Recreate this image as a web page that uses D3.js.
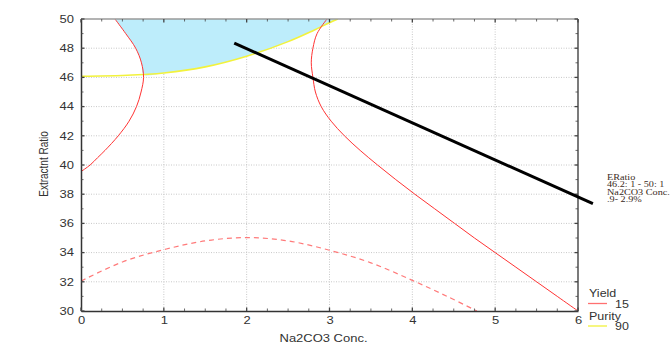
<!DOCTYPE html>
<html>
<head>
<meta charset="utf-8">
<script src="https://cdn.jsdelivr.net/npm/d3@7"></script>
<style>
    body { margin: 0; background: #fff; }
    text { font-family: Arial, "Liberation Sans", sans-serif; fill: #333; }
    .grid line { stroke: #c8c8c8; stroke-dasharray: 1,1.5; }
    .note text { font-family: "Liberation Serif", "Times New Roman", serif; fill: #3a2a22; }
</style>
</head>
<body>
<svg id="chart" width="672" height="343"></svg>
<script>
// ticks
const xTicks = [0, 1, 2, 3, 4, 5, 6];
const yTicks = [30, 32, 34, 36, 38, 40, 42, 44, 46, 48, 50];

// Yield = 15, left branch  [x, y]
const yieldLeft = [
    [0.41, 50], [0.54, 49], [0.66, 48], [0.73, 47], [0.755, 46], [0.725, 45],
    [0.67, 44], [0.58, 43], [0.45, 42], [0.29, 41], [0.2, 40.5], [0.11, 40], [0, 39.55]
];

// Yield = 15, right branch
const yieldRight = [
    [2.97, 50], [2.85, 49], [2.8, 48], [2.78, 47], [2.8, 46], [2.83, 45],
    [2.9, 44], [3.02, 43], [3.18, 42], [3.37, 41], [3.58, 40], [3.8, 39],
    [4.03, 38], [4.27, 37], [4.51, 36], [4.75, 35], [5.0, 34], [5.25, 33],
    [5.5, 32], [5.75, 31], [6, 30]
];

// Yield, lower contour (dashed)
const yieldLow = [
    [0, 32.05], [0.5, 33.36], [1, 34.2], [1.5, 34.8], [2, 35.03], [2.5, 34.8],
    [3, 34.16], [3.5, 33.3], [4, 32.1], [4.42, 31], [4.78, 30]
];

// Purity = 90
const purity = [
    [0, 46.08], [0.5, 46.13], [0.755, 46.2], [1, 46.3], [1.5, 46.72], [2, 47.45],
    [2.5, 48.45], [2.8, 49.2], [3, 49.75], [3.1, 50]
];

// ERatio path
const ratioLine = [[1.85, 48.35], [6.18, 37.35]];

const noteLines = ["ERatio", "46.2: 1 - 50: 1", "Na2CO3 Conc.", ".9- 2.9%"];

const legendItems = [
    {name: "Yield", level: "15", color: "#ff7070"},
    {name: "Purity", level: "90", color: "#f2f23c"}
];

const svg = d3.select("#chart");
const plotL = 81, plotR = 578, plotT = 19, plotB = 311;
const stretchK = 1.3;

const x = d3.scaleLinear().domain([0, 6]).range([plotL, plotR]);
const y = d3.scaleLinear().domain([30, 50]).range([plotB, plotT]);

// widen glyphs like the stretched original
function stretch(sel, k) {
    sel.each(function () {
        const t = d3.select(this);
        const tx = +t.attr("x") || 0, ty = +t.attr("y") || 0;
        t.attr("x", 0).attr("y", 0)
            .attr("transform", "translate(" + tx + "," + ty + ") scale(" + k + ",1)");
    });
}

svg.append("defs").append("clipPath").attr("id", "plot-clip")
    .append("rect")
    .attr("x", plotL).attr("y", plotT)
    .attr("width", plotR - plotL).attr("height", plotB - plotT);

// grid
const grid = svg.append("g").attr("class", "grid");
grid.selectAll(".gx").data(xTicks.slice(1, -1)).enter()
    .append("line")
    .attr("x1", d => x(d)).attr("x2", d => x(d))
    .attr("y1", plotT).attr("y2", plotB);
grid.selectAll(".gy").data(yTicks.slice(1, -1)).enter()
    .append("line")
    .attr("x1", plotL).attr("x2", plotR)
    .attr("y1", d => y(d)).attr("y2", d => y(d));

const plot = svg.append("g").attr("clip-path", "url(#plot-clip)");
const line = d3.line().x(d => x(d[0])).y(d => y(d[1])).curve(d3.curveCatmullRom);

// shaded region: above purity, right of the left yield branch
const fillPts = yieldLeft.filter(d => d[1] >= 46.5)
    .concat(purity.filter(d => d[0] >= 0.755));
plot.append("path")
    .datum(fillPts)
    .attr("d", line)
    .attr("fill", "#bdedfb")
    .attr("stroke", "none");

plot.append("path")
    .datum(purity)
    .attr("d", line)
    .attr("fill", "none")
    .attr("stroke", "#f2f23c")
    .attr("stroke-width", 1.6);

plot.selectAll(".yield")
    .data([yieldLeft, yieldRight])
    .enter()
    .append("path")
    .attr("d", line)
    .attr("fill", "none")
    .attr("stroke", "#ff3333")
    .attr("stroke-width", 1);

plot.append("path")
    .datum(yieldLow)
    .attr("d", line)
    .attr("fill", "none")
    .attr("stroke", "#ff7a7a")
    .attr("stroke-width", 1.2)
    .attr("stroke-dasharray", "5,4");

// frame
svg.append("line")
    .attr("x1", plotL).attr("x2", plotR).attr("y1", plotT).attr("y2", plotT)
    .attr("stroke", "#9a9a9a").attr("stroke-width", 1.5);
svg.append("line")
    .attr("x1", plotR).attr("x2", plotR).attr("y1", plotT).attr("y2", plotB)
    .attr("stroke", "#333").attr("stroke-width", 1.3);

const minorX = d3.range(0, 6.01, 0.25);
const minorY = d3.range(30, 50.01, 1);

let xAxis = svg.append("g")
    .attr("transform", "translate(0," + plotB + ")")
    .call(d3.axisBottom(x).tickValues(xTicks).tickFormat(d3.format("d")).tickSize(0).tickPadding(6));
xAxis.select(".domain").attr("stroke", "#333").attr("stroke-width", 1.5);
xAxis.selectAll("text").style("font-size", "10px").attr("fill", "#333");
stretch(xAxis.selectAll("text"), stretchK);

let yAxis = svg.append("g")
    .attr("transform", "translate(" + plotL + ",0)")
    .call(d3.axisLeft(y).tickValues(yTicks).tickSize(0).tickPadding(7));
yAxis.select(".domain").attr("stroke", "#333").attr("stroke-width", 1.5);
yAxis.selectAll("text").style("font-size", "10px").attr("fill", "#333");
stretch(yAxis.selectAll("text"), stretchK);

// inward ticks
const ticks = svg.append("g").attr("stroke", "#444");
ticks.selectAll(".tb").data(minorX).enter().append("line")
    .attr("x1", d => x(d)).attr("x2", d => x(d))
    .attr("y1", plotB).attr("y2", d => plotB - (d % 1 === 0 ? 3.5 : 2.5))
    .attr("stroke-width", d => d % 1 === 0 ? 1.3 : 0.8);
ticks.selectAll(".tt").data(minorX).enter().append("line")
    .attr("x1", d => x(d)).attr("x2", d => x(d))
    .attr("y1", plotT).attr("y2", d => plotT + (d % 1 === 0 ? 3.5 : 2.5))
    .attr("stroke-width", d => d % 1 === 0 ? 1.3 : 0.8);
ticks.selectAll(".tl").data(minorY).enter().append("line")
    .attr("x1", plotL).attr("x2", d => plotL + (d % 2 === 0 ? 3.5 : 2.5))
    .attr("y1", d => y(d)).attr("y2", d => y(d))
    .attr("stroke-width", d => d % 2 === 0 ? 1.3 : 0.8);
ticks.selectAll(".tr").data(minorY).enter().append("line")
    .attr("x1", plotR).attr("x2", d => plotR - (d % 2 === 0 ? 3.5 : 2.5))
    .attr("y1", d => y(d)).attr("y2", d => y(d))
    .attr("stroke-width", d => d % 2 === 0 ? 1.3 : 0.8);

// ratio line, drawn past the frame
svg.append("path")
    .datum(ratioLine)
    .attr("d", d3.line().x(d => x(d[0])).y(d => y(d[1])))
    .attr("stroke", "#000")
    .attr("stroke-width", 3)
    .attr("fill", "none");

// axis titles
let xTitle = svg.append("text")
    .attr("x", (plotL + plotR) / 2 - 6).attr("y", 341.5)
    .attr("text-anchor", "middle")
    .style("font-size", "10px")
    .text("Na2CO3 Conc.");
stretch(xTitle, stretchK);

svg.append("text")
    .attr("transform", "translate(48," + ((plotT + plotB) / 2 - 1) + ") rotate(-90) scale(1,1.3)")
    .attr("text-anchor", "middle")
    .style("font-size", "10px")
    .text("Extractnt Ratio");

// annotation next to the ratio line
const note = svg.append("g").attr("class", "note");
note.selectAll("text").data(noteLines).enter()
    .append("text")
    .attr("x", 607)
    .attr("y", (d, i) => 179.5 + i * 7.6)
    .style("font-size", "8.5px")
    .text(d => d);
stretch(note.selectAll("text"), 1.2);

// legend
const legend = svg.append("g").selectAll("g")
    .data(legendItems).enter()
    .append("g")
    .attr("transform", (d, i) => "translate(588," + (297 + i * 22.5) + ")");
legend.append("text")
    .attr("x", 1).attr("y", 0)
    .style("font-size", "10px")
    .text(d => d.name);
legend.append("line")
    .attr("x1", 0).attr("x2", 19)
    .attr("y1", 6.5).attr("y2", 6.5)
    .attr("stroke", d => d.color)
    .attr("stroke-width", 1.3);
legend.append("text")
    .attr("x", 27).attr("y", 10.5)
    .style("font-size", "10px")
    .text(d => d.level);
legend.selectAll("text").call(stretch, 1.25);
</script>
</body>
</html>
